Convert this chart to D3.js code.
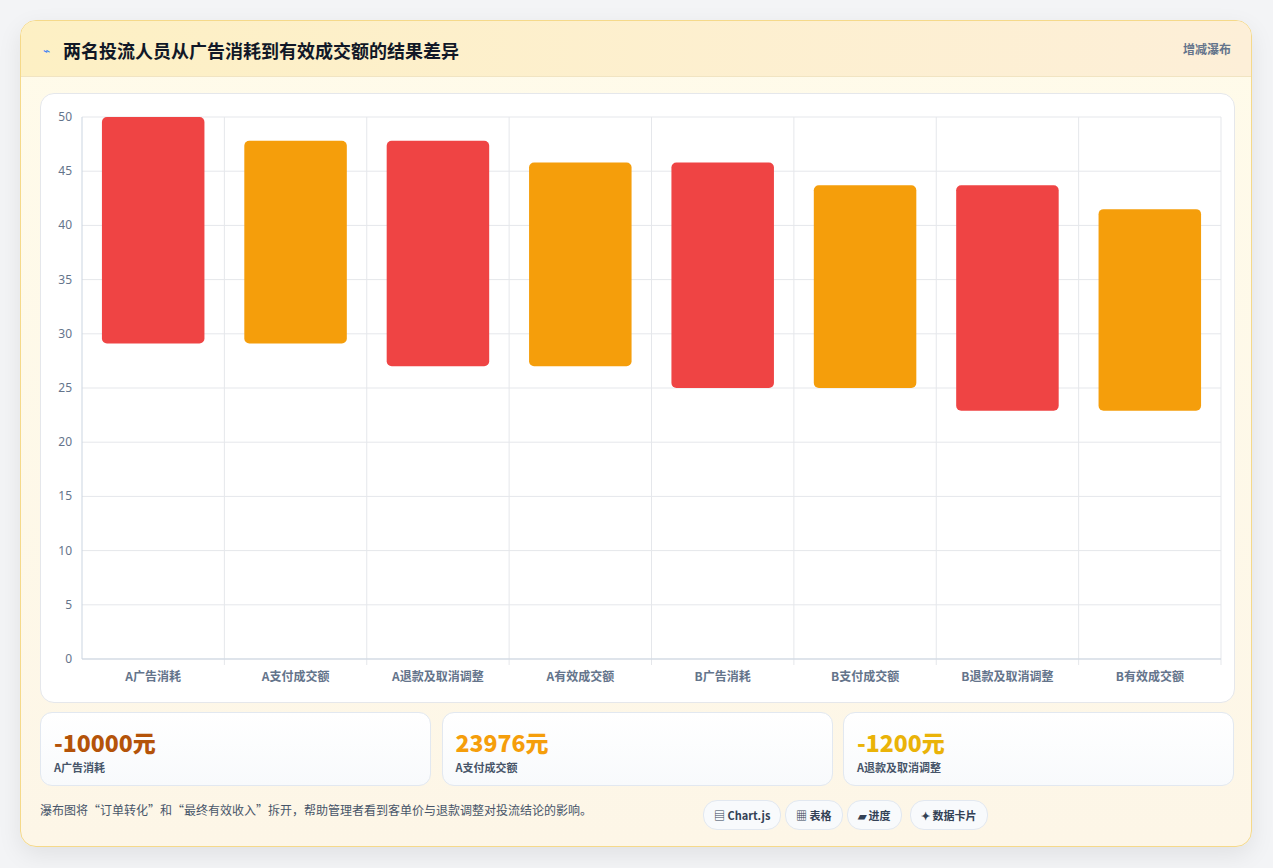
<!DOCTYPE html>
<html><head><meta charset="utf-8">
<script src="https://cdn.jsdelivr.net/npm/d3@7"></script>
<style>
body{margin:0;background:#f3f4f6;font-family:"Noto Sans CJK SC","Noto Sans",sans-serif;}
.card{position:absolute;left:20px;top:20px;width:1230px;height:825px;border:1px solid #f5d98a;border-radius:16px;background:linear-gradient(180deg,#fffbea,#fdf6e7);box-shadow:0 8px 24px rgba(0,0,0,.08);overflow:hidden}
.head{height:55px;border-bottom:1px solid #f1e4c2;background:linear-gradient(90deg,#fdf0c4,#fdefd8);position:relative}
.head h1{margin:0;position:absolute;left:42px;top:16px;font-size:18px;color:#111827;font-weight:700}
.head .ic{position:absolute;left:22px;top:20px;font-size:12px;color:#3b82f6}
.head .tag{position:absolute;right:20px;top:19px;font-size:12px;color:#64748b;font-weight:700}
.panel{position:absolute;left:19px;top:72px;width:1193px;height:608px;background:#fff;border:1px solid #e5e7eb;border-radius:14px}
.kpi{position:absolute;top:691px;width:389px;height:72px;background:linear-gradient(180deg,#fff,#f8fafc);border:1px solid #e2e8f0;border-radius:12px}
.kpi .v{position:absolute;left:13px;top:12px;font-size:23px;font-weight:800}
.kpi .l{position:absolute;left:13px;top:46px;font-size:11px;color:#475569;font-weight:700}
.note{position:absolute;left:19px;top:780px;font-size:12px;color:#475569}
.chip{position:absolute;top:779px;height:28px;line-height:28px;padding:0 10px;border:1px solid #e2e8f0;border-radius:14px;background:#f8fafc;font-size:11px;color:#334155;font-weight:700}
</style></head><body>
<div class="card">
  <div class="head"><span class="ic">⌁</span><h1>两名投流人员从广告消耗到有效成交额的结果差异</h1><span class="tag">增减瀑布</span></div>
  <div class="panel"><svg id="chart" width="1193" height="608"></svg></div>
  <div id="kpis"></div>
  <div class="note">瀑布图将“订单转化”和“最终有效收入”拆开，帮助管理者看到客单价与退款调整对投流结论的影响。</div>
  <div class="chip" style="left:682px">▤ Chart.js</div>
  <div class="chip" style="left:764px">▦ 表格</div>
  <div class="chip" style="left:826px">▰ 进度</div>
  <div class="chip" style="left:889px">✦ 数据卡片</div>
</div>
<script>
const categories = ["A广告消耗","A支付成交额","A退款及取消调整","A有效成交额","B广告消耗","B支付成交额","B退款及取消调整","B有效成交额"];
const barLow  = [29.1, 29.1, 27.0, 27.0, 25.0, 25.0, 22.9, 22.9];
const barHigh = [50.0, 47.8, 47.8, 45.8, 45.8, 43.7, 43.7, 41.5];
const barColors = ["#ef4444","#f59e0b","#ef4444","#f59e0b","#ef4444","#f59e0b","#ef4444","#f59e0b"];
const yTicks = [0,5,10,15,20,25,30,35,40,45,50];
const kpiValues = ["-10000元","23976元","-1200元"];
const kpiLabels = ["A广告消耗","A支付成交额","A退款及取消调整"];
const kpiColors = ["#b45309","#f59e0b","#eab308"];

const svg = d3.select("#chart");
const m = {left:41, right:13, top:23, bottom:43};
const W = 1193, H = 608;
const x = d3.scaleBand().domain(categories).range([m.left, W-m.right]);
const y = d3.scaleLinear().domain([0,50]).range([H-m.bottom, m.top]);

svg.append("g").selectAll("line").data(yTicks).join("line")
  .attr("x1", m.left).attr("x2", W-m.right).attr("y1", d=>y(d)).attr("y2", d=>y(d))
  .attr("stroke", "#e5e7eb");
svg.append("g").selectAll("line").data(categories).join("line")
  .attr("x1", d=>x(d)+x.bandwidth()).attr("x2", d=>x(d)+x.bandwidth())
  .attr("y1", m.top).attr("y2", H-m.bottom+6).attr("stroke", "#e5e7eb");
svg.append("line").attr("x1",m.left).attr("x2",m.left).attr("y1",m.top).attr("y2",H-m.bottom).attr("stroke","#cbd5e1");
svg.append("line").attr("x1",m.left).attr("x2",W-m.right).attr("y1",y(0)).attr("y2",y(0)).attr("stroke","#cbd5e1");

svg.append("g").selectAll("text").data(yTicks).join("text")
  .attr("x", m.left-10).attr("y", d=>y(d)+4).attr("text-anchor","end")
  .attr("font-size",12).attr("fill","#64748b").attr("font-family","Noto Sans,sans-serif").text(d=>d);
svg.append("g").selectAll("text").data(categories).join("text")
  .attr("x", d=>x(d)+x.bandwidth()/2).attr("y", H-m.bottom+22).attr("text-anchor","middle")
  .attr("font-size",12).attr("font-weight",700).attr("fill","#64748b").text(d=>d);

const bw = x.bandwidth()*0.72;
svg.append("g").selectAll("rect").data(categories).join("rect")
  .attr("x", d=>x(d)+(x.bandwidth()-bw)/2).attr("width", bw)
  .attr("y", (d,i)=>y(barHigh[i])).attr("height", (d,i)=>y(barLow[i])-y(barHigh[i]))
  .attr("rx", 5).attr("fill", (d,i)=>barColors[i]);

const k = d3.select("#kpis").selectAll("div").data(kpiValues).join("div")
  .attr("class","kpi").style("left",(d,i)=>(19+i*401.5)+"px");
k.append("div").attr("class","v").style("color",(d,i)=>kpiColors[i]).text(d=>d);
k.append("div").attr("class","l").text((d,i)=>kpiLabels[i]);
</script>
</body></html>
